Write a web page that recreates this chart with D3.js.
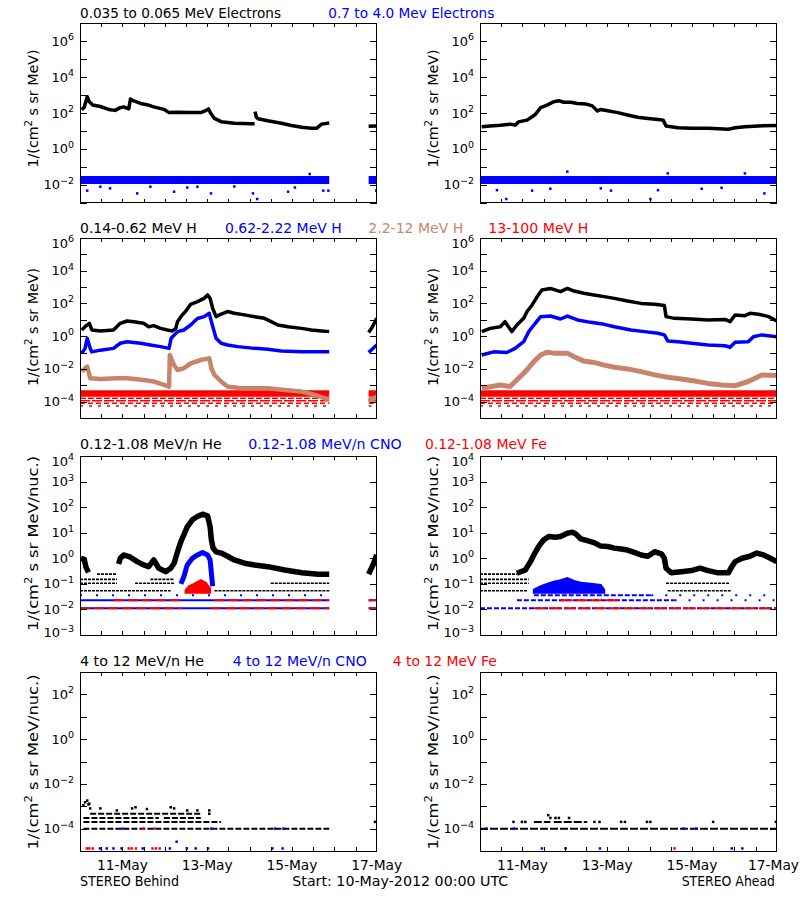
<!DOCTYPE html>
<html><head><meta charset="utf-8">
<script src="https://cdn.jsdelivr.net/npm/d3@7"></script>
<style>body{margin:0;background:#fff}svg{display:block}text{font-family:"DejaVu Sans",sans-serif}</style>
</head><body><script>
// ---------------- DATA (day since 10-May-2012 00:00 UTC, value) ----------------
const dateTickDays = [1,3,5,7];
const dateTickLabels = ["11-May","13-May","15-May","17-May"];
const halfDayTicks = [0.5,1,1.5,2,2.5,3,3.5,4,4.5,5,5.5,6,6.5];
const yLabelExps = [[6,4,2,0,-2],[6,4,2,0,-2,-4],[4,3,2,1,0,-1,-2,-3],[2,0,-2,-4]];

// Row 1: electrons
const behindElecLo = [[0.04,150],[0.10,210],[0.17,810],[0.22,420],[0.30,280],[0.48,230],[0.71,150],[0.83,140],[0.95,200],[1.03,220],[1.15,170],[1.19,600],[1.27,470],[1.43,340],[1.58,290],[1.74,220],[1.98,160],[2.10,105],[2.30,110],[2.60,105],[2.85,105],[2.98,140],[3.03,170],[3.08,100],[3.17,50],[3.33,33],[3.64,27],[4.04,25],[4.12,25],[4.125,null],[4.13,120],[4.16,60],[4.20,48],[4.43,37],[4.75,27],[4.99,20],[5.23,16],[5.46,14],[5.58,14],[5.70,24],[5.88,28],[5.89,null],[6.81,18],[6.99,19]];
const aheadElecLo = [[0.04,17],[0.24,19],[0.48,21],[0.71,24],[0.83,21],[0.91,32],[1.11,40],[1.23,62],[1.31,85],[1.43,200],[1.58,275],[1.74,425],[1.86,480],[1.98,400],[2.14,400],[2.30,340],[2.49,320],[2.65,250],[2.77,129],[2.85,158],[3.01,135],[3.25,105],[3.48,78],[3.72,58],[3.96,50],[4.20,44],[4.32,40],[4.39,19],[4.67,15],[4.99,14],[5.38,14],[5.86,12.3],[6.02,15],[6.25,17],[6.57,19],[7.0,20]];
const behindElecHiSpans = [[0,5.88],[6.81,7]];
const aheadElecHiSpans = [[0,7]];
const elecHiRange = [0.011,0.031];
const behindElecHiOut = [[0.17,0.0047],[0.71,0.0063],[1.35,0.0033],[2.22,0.0041],[3.09,0.0033],[4.08,0.0033],[4.18,0.0016],[4.91,0.0041],[5.42,0.04],[5.74,0.0047],[5.86,0.0047],[6.99,0.0047],[0.48,0.0078],[1.66,0.0078],[2.53,0.007],[2.77,0.0078],[3.64,0.008],[5.07,0.007]];
const aheadElecHiOut = [[0.62,0.0016],[2.06,0.054],[3.09,0.0047],[4.02,0.0016],[4.43,0.043],[6.25,0.043],[6.71,0.0033],[0.40,0.005],[1.23,0.0047],[4.20,0.005],[1.66,0.006],[2.85,0.0063],[5.23,0.006],[5.70,0.0068]];

// Row 2: protons
const behindH1 = [[0.04,2.4],[0.12,3.8],[0.22,6.1],[0.28,2.4],[0.48,2.1],[0.79,2.4],[0.95,6.1],[1.11,8.5],[1.27,7.7],[1.50,6.1],[1.62,3.8],[1.74,4.4],[1.90,3.0],[2.06,2.4],[2.18,2.1],[2.26,3.0],[2.30,7.7],[2.41,20],[2.49,32],[2.61,89],[2.77,129],[2.93,205],[3.01,330],[3.07,205],[3.13,50],[3.21,15.6],[3.29,20],[3.48,32],[3.64,25],[3.88,20],[4.12,15.6],[4.35,12.3],[4.51,7.7],[4.67,4.8],[4.91,3.8],[5.23,3.0],[5.46,2.4],[5.70,2.1],[5.88,1.9],[5.89,null],[6.81,1.7],[6.90,3.8],[7.0,12.3]];
const behindH2 = [[0.04,0.089],[0.12,0.18],[0.17,0.74],[0.24,0.18],[0.28,0.11],[0.48,0.14],[0.79,0.18],[0.95,0.37],[1.11,0.46],[1.43,0.37],[1.66,0.29],[1.90,0.23],[2.10,0.18],[2.15,0.74],[2.30,1.9],[2.45,2.4],[2.61,4.8],[2.77,12],[2.93,15.6],[3.05,25],[3.10,7.7],[3.21,0.74],[3.33,0.37],[3.48,0.29],[3.72,0.23],[4.12,0.18],[4.43,0.16],[4.75,0.125],[5.23,0.11],[5.88,0.11],[5.89,null],[6.81,0.1],[7.0,0.29]];
const behindH3 = [[0.04,6.8e-3],[0.17,1.4e-2],[0.24,2.7e-3],[0.48,2.4e-3],[0.87,2.7e-3],[1.11,2.7e-3],[1.50,2.1e-3],[1.74,1.7e-3],[1.98,1.05e-3],[2.10,8.3e-4],[2.12,7e-2],[2.22,1.7e-2],[2.30,8.6e-3],[2.45,1.1e-2],[2.61,2.2e-2],[2.85,3.5e-2],[3.05,4.4e-2],[3.10,1.1e-2],[3.17,4.3e-3],[3.33,1.7e-3],[3.48,8.3e-4],[3.80,6.5e-4],[4.43,6.5e-4],[4.83,5.1e-4],[5.23,4.1e-4],[5.54,2.6e-4],[5.88,1.3e-4],[5.89,null],[6.81,1e-4],[7.0,2e-4]];
const aheadH1 = [[0.04,1.9],[0.24,3.0],[0.48,3.8],[0.59,7.7],[0.75,1.9],[0.87,4.8],[1.03,12.3],[1.11,32],[1.23,81],[1.35,262],[1.46,660],[1.66,830],[1.90,525],[2.06,830],[2.22,575],[2.45,417],[2.69,330],[2.93,262],[3.17,205],[3.48,141],[3.80,101],[4.12,89],[4.35,74],[4.39,15.6],[4.59,12.3],[4.99,11.2],[5.38,9.8],[5.78,10.5],[5.90,7.7],[6.02,20],[6.25,18],[6.37,25],[6.57,22],[6.81,15.6],[7.0,8.5]];
const aheadH2 = [[0.04,0.071],[0.32,0.11],[0.63,0.10],[0.83,0.18],[1.03,0.46],[1.15,1.9],[1.27,4.8],[1.43,15.6],[1.66,17],[1.90,11.2],[2.06,17],[2.30,9.8],[2.61,7.0],[2.93,5.3],[3.17,3.8],[3.56,2.4],[3.88,1.9],[4.20,1.5],[4.35,1.2],[4.43,0.51],[4.67,0.46],[4.99,0.37],[5.38,0.29],[5.78,0.26],[5.90,0.21],[6.02,0.42],[6.33,0.46],[6.45,0.93],[6.65,1.2],[7.0,0.93]];
const aheadH3 = [[0.04,6.6e-4],[0.48,1.05e-3],[0.71,8.3e-4],[0.91,2.7e-3],[1.07,6.8e-3],[1.27,2.8e-2],[1.43,7.1e-2],[1.58,0.104],[1.74,0.092],[2.06,0.092],[2.22,5.6e-2],[2.45,3e-2],[2.69,2.5e-2],[2.93,1.7e-2],[3.17,1.26e-2],[3.48,1e-2],[3.80,6.8e-3],[4.12,4.3e-3],[4.43,3.1e-3],[4.75,2.4e-3],[5.07,1.8e-3],[5.38,1.3e-3],[5.70,1.05e-3],[6.02,9.5e-4],[6.33,1.7e-3],[6.65,4.3e-3],[7.0,4e-3]];
const behindH4Spans = [[0,5.88],[6.81,7]];
const aheadH4Spans = [[0,7]];
const h4BandRange = [2e-4,5e-4];
const h4Levels = [1.6e-4,1.15e-4,8e-5,5.5e-5];

// Row 3: 0.12-1.08 MeV/n ions
const behindHe = [[0.02,1.0],[0.10,0.9],[0.14,0.45],[0.20,0.28],[0.21,null],[0.91,0.6],[0.95,1.0],[1.03,1.35],[1.19,1.1],[1.35,0.74],[1.50,0.55],[1.62,0.47],[1.74,0.86],[1.86,0.41],[2.02,0.30],[2.14,0.41],[2.22,0.64],[2.30,1.8],[2.38,4.5],[2.45,8.2],[2.53,17],[2.65,32],[2.77,43],[2.89,53],[3.01,46],[3.07,17],[3.10,5.2],[3.14,2.5],[3.21,1.8],[3.33,1.6],[3.48,1.2],[3.64,0.86],[3.88,0.64],[4.12,0.55],[4.43,0.47],[4.83,0.35],[5.23,0.27],[5.62,0.24],[5.88,0.24],[5.89,null],[6.81,0.24],[6.93,0.64],[7.0,1.35]];
const aheadHe = [[0.87,0.26],[1.07,0.35],[1.19,0.74],[1.27,1.35],[1.39,3.0],[1.50,5.2],[1.62,7.1],[1.78,6.6],[1.90,7.1],[2.06,9.5],[2.18,10.5],[2.26,9.0],[2.38,5.7],[2.53,4.9],[2.69,4.1],[2.85,3.0],[3.01,2.9],[3.17,2.5],[3.33,2.3],[3.48,2.1],[3.64,1.7],[3.80,1.35],[3.96,1.2],[4.12,1.8],[4.28,1.5],[4.35,1.0],[4.39,0.41],[4.51,0.27],[4.75,0.30],[4.99,0.33],[5.19,0.41],[5.38,0.33],[5.62,0.27],[5.86,0.27],[5.94,0.47],[6.02,0.74],[6.18,1.0],[6.37,1.2],[6.53,1.6],[6.69,1.35],[6.85,1.0],[7.0,0.74]];
const behindHeRows = [[0.24,0.40,0.87],[0.15,0,0.87],[0.15,1.66,2.22],[0.105,0,0.87],[0.105,1.3,2.22],[0.105,4.5,5.88],[0.054,0,2.14],[0.054,3.17,5.88]];
const aheadHeRows = [[0.24,0,0.87],[0.15,0,1.15],[0.105,0,1.15],[0.105,4.39,5.90],[0.054,0,1.11],[0.054,4.43,5.94]];
const behindCNO = [[2.38,0.1],[2.45,0.19],[2.53,0.55],[2.65,1.0],[2.77,1.35],[2.89,1.7],[3.01,1.35],[3.07,0.86],[3.10,0.26],[3.13,0.08]];
const aheadCNOBump = [[1.27,0.06],[1.42,0.08],[1.58,0.10],[1.74,0.12],[1.90,0.14],[2.06,0.17],[2.22,0.13],[2.38,0.11],[2.61,0.10],[2.85,0.09],[2.93,0.06]];
const behindFeBump = [[2.49,0.057],[2.57,0.08],[2.69,0.10],[2.85,0.14],[2.97,0.11],[3.07,0.066]];
const bumpBase = 0.045;
const behindCNORows = [[0.036,0,5.88],[0.023,0,5.88],[0.023,6.81,7],[0.011,0,5.88],[0.011,6.81,7]];
const behindFeRows = [[0.023,0.79,2.38],[0.023,3.17,5.88],[0.023,6.81,7],[0.011,0,2.41],[0.011,3.10,5.88],[0.011,6.81,7]];
const aheadCNORowsDense = [[0.036,1.27,4.04],[0.023,0.87,4.59],[0.011,0,7]];
const aheadCNORowsSparse = [[0.036,4.04,7],[0.023,4.59,7]];
const aheadFeRows = [[0.023,1.9,3.25],[0.011,1.27,7]];

// Row 4: 4-12 MeV/n ions
const behindHe4Rows = [[4.6e-4,0.24,2.85],[3e-4,0.08,1.86],[3e-4,1.98,2.85],[2e-4,0.08,3.33],[1e-4,0.08,5.88]];
const behindHe4Pts = [[0.08,1.1e-3],[0.12,1.5e-3],[0.17,1.8e-3],[0.20,1.2e-3],[0.22,1.3e-3],[0.24,8e-4],[0.48,8e-4],[0.87,6.5e-4],[1.23,8e-4],[1.31,9e-4],[1.58,7.5e-4],[2.14,9e-4],[2.22,8e-4],[2.53,6.5e-4],[2.77,6.5e-4],[3.05,6.5e-4],[3.05,4.6e-4],[6.96,2e-4]];
const behindCNO4Pts = [[0.47,1.3e-5],[0.63,1.3e-5],[0.79,1.3e-5],[0.98,1.3e-5],[1.48,1.3e-5],[2.12,1.3e-5],[2.28,2.6e-5],[2.52,1.3e-5],[2.73,1.3e-5],[3.02,1.3e-5],[4.54,1.3e-5],[4.78,1.3e-5],[1.0,1e-4],[3.1,1e-4],[4.6,1e-4],[4.8,1e-4]];
const behindFe4Pts = [[0.16,1.3e-5],[0.22,1.3e-5],[0.30,1.3e-5],[1.15,1.3e-5],[1.22,1.3e-5],[1.32,1.3e-5],[1.71,1.3e-5],[1.79,1.3e-5],[1.88,1.3e-5],[1.5,1e-4],[1.75,1e-4]];
const aheadHe4Rows = [[2e-4,1.27,1.66],[2e-4,1.74,2.53],[1e-4,0,7]];
const aheadHe4Pts = [[0.79,2e-4],[0.99,2e-4],[1.07,2e-4],[2.70,2e-4],[2.82,2e-4],[3.33,2e-4],[3.42,2e-4],[3.94,2e-4],[4.02,2e-4],[5.50,2e-4],[6.98,2e-4],[1.61,4e-4],[1.66,3e-4],[1.78,3e-4],[1.86,3e-4],[2.10,3e-4]];
const aheadCNO4Pts = [[1.46,1.3e-5],[2.02,1.3e-5],[2.83,1.3e-5],[5.94,1.3e-5],[6.19,1.3e-5],[0.15,1e-4],[0.8,1e-4],[4.8,1e-4],[5.1,1e-4]];
const aheadFe4Pts = [[4.59,1.3e-5]];

// ---------------- LAYOUT ----------------
const C = {blk:"#000000", blu:"#0000ff", tan:"#c8846a", red:"#ff0000"};
const colX = [80,480], plotW = 296.7;
const rowGeom = [
  {top:23.3,h:179.4,dom:[1e-3,1e7],ylab:"MeV)",yc:108.5},
  {top:238,h:180,dom:[1e-5,1e6],ylab:"MeV)",yc:327},
  {top:456,h:179,dom:[1e-3,1e4],ylab:"MeV/nuc.)",yc:543.5},
  {top:672,h:179,dom:[1e-5,1e3],ylab:"MeV/nuc.)",yc:762}
];
const svg = d3.select("body").append("svg").attr("width",800).attr("height",900);
svg.append("rect").attr("width",800).attr("height",900).attr("fill","#fff");
const defs = svg.append("defs");

function panel(col,row){
  const G = rowGeom[row], x0 = colX[col];
  const x = d3.scaleLinear().domain([0,7]).range([x0,x0+plotW]);
  const y = d3.scaleLog().domain(G.dom).range([G.top+G.h,G.top]);
  const id = `clip${col}${row}`;
  defs.append("clipPath").attr("id",id).append("rect").attr("x",x0).attr("y",G.top).attr("width",plotW).attr("height",G.h);
  const g = svg.append("g").attr("clip-path",`url(#${id})`);
  return {x,y,g,x0,G};
}
function line(P,data,color,w){
  P.g.append("path").datum(data).attr("fill","none").attr("stroke",color).attr("stroke-width",w).attr("stroke-linejoin","round")
   .attr("d",d3.line().defined(d=>d[1]!=null).x(d=>P.x(d[0])).y(d=>P.y(d[1]))(data));
}
function spans(P,sp,range,color){
  sp.forEach(s=>{
    P.g.append("path").attr("fill",color)
     .attr("d",d3.area().x(d=>P.x(d)).y0(P.y(range[0])).y1(P.y(range[1]))([s[0],s[1]]));
  });
}
function bump(P,data,base,color){
  P.g.append("path").attr("fill",color).attr("stroke",color).attr("stroke-width",2)
   .attr("d",d3.area().x(d=>P.x(d[0])).y0(P.y(base)).y1(d=>P.y(d[1]))(data));
}
function rows(P,rs,color,dash,w){
  rs.forEach(r=>{
    P.g.append("line").attr("x1",P.x(r[1])).attr("x2",P.x(r[2])).attr("y1",P.y(r[0])).attr("y2",P.y(r[0]))
     .attr("stroke",color).attr("stroke-width",w||2).attr("stroke-dasharray",dash||null);
  });
}
function levels(P,lv,sp,color,dashes){
  lv.forEach((l,i)=>rows(P,sp.map(s=>[l,s[0],s[1]]),color,dashes[i],1.5));
}
function pts(P,data,color,s){
  s=s||2.5;
  P.g.selectAll(null).data(data).enter().append("rect").attr("x",d=>P.x(d[0])-s/2).attr("y",d=>P.y(d[1])-s/2)
   .attr("width",s).attr("height",s).attr("fill",color);
}
function axes(P,row,bottomLabels){
  const {x,y,x0,G}=P;
  const lo = Math.round(Math.log10(G.dom[0])), hi = Math.round(Math.log10(G.dom[1]));
  const decs = d3.range(lo,hi+1).map(e=>Math.pow(10,e));
  const a = svg.append("g").attr("shape-rendering","crispEdges");
  const strip = s=>{s.select(".domain").remove(); s.selectAll("text").remove();};
  a.append("g").attr("transform",`translate(${x0},0)`).call(d3.axisLeft(y).tickValues(decs).tickSize(-7)).call(strip);
  a.append("g").attr("transform",`translate(${x0+plotW},0)`).call(d3.axisRight(y).tickValues(decs).tickSize(-7)).call(strip);
  a.append("g").attr("transform",`translate(0,${G.top+G.h})`).call(d3.axisBottom(x).tickValues(halfDayTicks).tickSize(-4)).call(strip);
  a.append("g").attr("transform",`translate(0,${G.top})`).call(d3.axisTop(x).tickValues(halfDayTicks).tickSize(-4)).call(strip);
  a.append("rect").attr("x",x0).attr("y",G.top).attr("width",plotW).attr("height",G.h).attr("fill","none").attr("stroke","#000");
  yLabelExps[row].forEach(e=>{
    const shift = e===hi ? 5 : (e===lo ? -2.5 : 0);
    const t = svg.append("text").attr("x",x0-6).attr("y",y(Math.pow(10,e))+4.5+shift).attr("text-anchor","end").attr("font-size",13);
    t.append("tspan").text("10");
    t.append("tspan").attr("dy",-5.5).attr("font-size",9.5).text(e<0?"\u2212"+(-e):String(e));
  });
  const yt = svg.append("text").attr("transform",`translate(${x0-42},${G.yc}) rotate(-90)`).attr("text-anchor","middle").attr("font-size",14)
    .attr("textLength",row<2?118:175).attr("lengthAdjust","spacingAndGlyphs");
  yt.append("tspan").text("1/(cm");
  yt.append("tspan").attr("font-size",10).attr("dy",-6).text("2");
  yt.append("tspan").attr("dy",6).text(" s sr "+G.ylab);
  if(bottomLabels){
    dateTickDays.forEach((d,i)=>{
      svg.append("text").attr("x",Math.min(x(d),773.5)).attr("y",870).attr("text-anchor","middle").attr("font-size",14)
        .attr("textLength",51).attr("lengthAdjust","spacingAndGlyphs").text(dateTickLabels[i]);
    });
  }
}
function title(txt,xs,xe,yb,color){
  svg.append("text").attr("x",xs).attr("y",yb).attr("font-size",14).attr("fill",color)
    .attr("textLength",xe-xs).attr("lengthAdjust","spacingAndGlyphs").text(txt);
}

// ---- Row 1
let P = panel(0,0);
spans(P,behindElecHiSpans,elecHiRange,C.blu); pts(P,behindElecHiOut,C.blu,2.5);
line(P,behindElecLo,C.blk,3.5); axes(P,0);
P = panel(1,0);
spans(P,aheadElecHiSpans,elecHiRange,C.blu); pts(P,aheadElecHiOut,C.blu,2.5);
line(P,aheadElecLo,C.blk,3.5); axes(P,0);
// ---- Row 2
P = panel(0,1);
spans(P,behindH4Spans,h4BandRange,C.red); levels(P,h4Levels,behindH4Spans,C.red,["6 2","10 2","5 3","3 6"]);
line(P,behindH3,C.tan,4.5); line(P,behindH2,C.blu,3.5); line(P,behindH1,C.blk,3.5); axes(P,1);
P = panel(1,1);
spans(P,aheadH4Spans,h4BandRange,C.red); levels(P,h4Levels,aheadH4Spans,C.red,["6 2","10 2","5 3","3 6"]);
line(P,aheadH3,C.tan,5); line(P,aheadH2,C.blu,3.5); line(P,aheadH1,C.blk,3.5); axes(P,1);
// ---- Row 3
P = panel(0,2);
rows(P,behindHeRows,C.blk,"3 1",1.6);
rows(P,behindCNORows.filter(r=>r[0]<0.03),C.blu,null,2);
rows(P,behindCNORows.filter(r=>r[0]>0.03),C.blu,"2 14",2);
rows(P,behindFeRows,C.red,"10 4",2);
line(P,behindHe,C.blk,5.5); line(P,behindCNO,C.blu,5); bump(P,behindFeBump,bumpBase,C.red); axes(P,2);
P = panel(1,2);
rows(P,aheadHeRows,C.blk,"3 1",1.6);
rows(P,aheadCNORowsDense,C.blu,"5 2",2);
rows(P,aheadCNORowsSparse,C.blu,"2 12",2);
rows(P,aheadFeRows,C.red,"12 3",2);
bump(P,aheadCNOBump,bumpBase,C.blu); line(P,aheadHe,C.blk,5.5); axes(P,2);
// ---- Row 4
P = panel(0,3);
rows(P,behindHe4Rows,C.blk,"6 2",2); pts(P,behindHe4Pts,C.blk,2.5);
pts(P,behindCNO4Pts,C.blu,2.5); pts(P,behindFe4Pts,C.red,2.5); axes(P,3,true);
P = panel(1,3);
rows(P,aheadHe4Rows,C.blk,"8 2",2); pts(P,aheadHe4Pts,C.blk,2.5);
pts(P,aheadCNO4Pts,C.blu,2.5); pts(P,aheadFe4Pts,C.red,2.5); axes(P,3,true);

// ---------------- TITLES ----------------
title("0.035 to 0.065 MeV Electrons",80,281,18.3,C.blk);
title("0.7 to 4.0 Mev Electrons",328.3,494.3,18.3,C.blu);
title("0.14-0.62 MeV H",80,196.7,233,C.blk);
title("0.62-2.22 MeV H",225,341.7,233,C.blu);
title("2.2-12 MeV H",368.3,463.3,233,C.tan);
title("13-100 MeV H",488.3,588.3,233,C.red);
title("0.12-1.08 MeV/n He",80,221.7,449,C.blk);
title("0.12-1.08 MeV/n CNO",248.3,401.7,449,C.blu);
title("0.12-1.08 MeV Fe",425,546.7,449,C.red);
title("4 to 12 MeV/n He",80,204,665.5,C.blk);
title("4 to 12 MeV/n CNO",232.7,366.7,665.5,C.blu);
title("4 to 12 MeV Fe",392.7,496.7,665.5,C.red);
title("STEREO Behind",80,179,885.5,C.blk);
title("Start: 10-May-2012 00:00 UTC",292.3,508.3,885.5,C.blk);
title("STEREO Ahead",681.7,775,885.5,C.blk);
</script></body></html>
